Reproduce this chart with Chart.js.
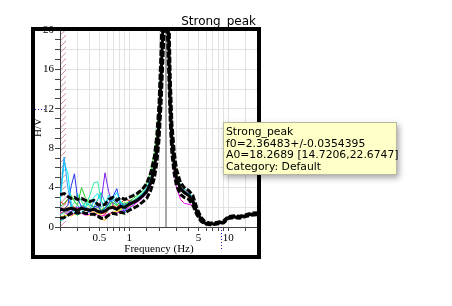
<!DOCTYPE html>
<html>
<head>
<meta charset="utf-8">
<script src="https://cdn.jsdelivr.net/npm/chart.js@4/dist/chart.umd.min.js"></script>
<style>
html,body{margin:0;padding:0;background:#fff;}
canvas{display:block;}
</style>
</head>
<body>
<canvas id="c" width="452" height="306" style="width:452px;height:306px"></canvas>
<script>
const titleText = "Strong_peak";
const xTitle = "Frequency (Hz)";
const yTitle = "H/V";
const xLabelValues = [0.5, 1, 5, 10];
const yLabelStep = 4;
const f0 = 2.36483;
const fHatch = 0.23;
const cursorF = 8.4;
const cursorHV = 12;
const infoLines = ["Strong_peak", "f0=2.36483+/-0.0354395", "A0=18.2689 [14.7206,22.6747]", "Category: Default"];

const freq = [0.2,0.22,0.24,0.26,0.28,0.3,0.33,0.36,0.4,0.44,0.48,0.52,0.57,0.62,0.68,0.75,0.82,0.9,
  1.0,1.1,1.2,1.35,1.5,1.65,1.8,1.9,2.0,2.1,2.2,2.3,2.4,2.5,2.6,2.7,2.85,3.0,3.3,3.6,4.0,4.4,4.8,5.3,5.8,6.5,7.2,8,9,10,11.5,13,15,17,20];

const meanHV = [1.8,1.7,1.8,1.9,1.8,1.7,1.9,1.8,1.7,1.8,1.6,1.5,1.6,1.9,2.0,1.8,2.1,2.0,
  2.3,2.5,2.7,3.1,3.6,4.5,6.0,7.8,10.5,15,21,25,25,19,12.5,8.8,6.4,5.0,3.9,3.5,3.2,2.6,1.6,0.8,0.4,0.3,0.32,0.4,0.5,0.95,1.05,1.0,1.15,1.3,1.35];
const upperHV = [3.3,3.4,3.1,2.9,3.0,2.8,2.9,2.7,2.6,2.7,2.3,2.2,2.3,2.8,3.0,2.7,3.0,2.8,
  3.0,3.2,3.4,3.8,4.4,5.5,7.2,9.3,12.5,18,25,29,29,23,15,10.5,7.6,5.9,4.5,4.0,3.7,3.2,2.0,1.0,0.55,0.4,0.42,0.5,0.62,1.05,1.15,1.1,1.25,1.4,1.45];
const lowerHV = [0.9,0.95,1.2,1.4,1.5,1.4,1.5,1.4,1.3,1.3,1.1,0.9,0.9,1.2,1.4,1.3,1.5,1.4,
  1.7,1.9,2.1,2.5,2.9,3.7,5.0,6.5,8.8,12.5,17.5,21.5,21.5,16,10.5,7.4,5.4,4.2,3.3,3.0,2.8,2.2,1.3,0.6,0.32,0.22,0.25,0.32,0.42,0.85,0.95,0.9,1.05,1.2,1.25];

const hvSkyBlue = [3.0,7.1,4.0,2.0,1.8,1.6,2.2,2.0,1.8,2.6,2.3,2.0,2.4,2.8,2.6,3.0,2.4,2.2,
  2.4,2.6,2.9,3.3,3.9,4.9,6.4,8.2,11,16,22,26,26,20,13,9.2,6.8,5.3,4.1,3.7,3.4,2.7,1.7,0.8,0.4,0.3,0.32,0.4,0.52,0.95,1.05,1.0,1.15,1.3,1.35];
const hvCyan = [2.5,6.5,5.5,2.4,1.4,1.2,1.5,2.0,2.5,3.0,3.4,2.6,2.2,3.2,2.8,3.5,2.5,1.8,
  2.2,2.4,2.8,3.2,3.8,4.7,6.2,8.0,11,16.5,23,27,26,19,12,8.5,6.5,5.2,4.3,3.9,3.6,2.9,1.8,0.9,0.45,0.3,0.3,0.38,0.5,0.9,1.0,1.0,1.1,1.25,1.3];
const hvBlue = [1.6,1.8,2.2,4.2,5.4,3.0,2.0,1.8,1.5,2.0,2.2,1.6,1.9,2.4,3.0,3.9,2.2,1.5,
  2.6,2.4,2.6,3.0,3.5,4.3,5.8,7.5,10,14.5,20,24,24,18,12,8.5,6.2,4.9,3.8,3.6,3.3,2.5,1.5,0.7,0.35,0.25,0.3,0.38,0.48,0.9,1.0,0.95,1.1,1.25,1.3];
const hvGreen = [2.0,2.4,2.8,3.2,2.6,2.2,4.0,3.0,2.4,2.0,2.2,1.7,1.9,2.3,2.5,2.2,2.6,2.2,
  2.6,2.9,3.2,3.6,4.4,5.6,7.6,9.5,12.5,17,23,26,25,18,11.5,8.0,6.0,4.7,3.7,3.4,3.1,2.5,1.6,0.8,0.4,0.3,0.32,0.4,0.5,0.95,1.05,1.0,1.15,1.3,1.35];
const hvSpring = [1.2,1.5,1.8,2.2,2.5,3.4,2.6,2.0,3.2,4.5,4.6,2.8,1.6,2.4,2.9,2.2,2.5,2.3,
  2.4,2.7,3.0,3.4,4.0,5.0,6.6,8.4,11,15.5,21,25,25,19.5,13,9.0,6.6,5.1,4.0,3.6,3.3,2.7,1.7,0.8,0.4,0.3,0.32,0.42,0.52,0.95,1.05,1.0,1.15,1.3,1.35];
const hvPurple = [2.0,1.8,1.5,1.6,1.8,2.0,1.9,1.7,1.6,1.8,2.0,2.6,5.5,3.6,2.3,2.6,2.2,2.4,
  2.2,2.4,2.6,3.0,3.5,4.4,5.9,7.6,10.2,14.5,20.5,24.5,24.5,18.5,12,8.6,6.3,4.9,3.8,3.4,3.1,2.5,1.5,0.75,0.38,0.28,0.3,0.4,0.5,0.95,1.05,1.0,1.15,1.3,1.35];
const hvRed = [2.6,2.3,2.8,2.2,2.0,1.9,2.1,2.0,1.8,1.7,1.5,1.4,1.3,1.8,2.2,2.0,2.4,2.8,
  2.7,2.6,2.8,3.2,3.8,4.6,6.1,7.9,10.5,15,21,25,25,19,12.5,8.8,6.5,5.1,4.0,3.7,3.5,2.9,1.8,0.9,0.45,0.32,0.34,0.42,0.52,0.95,1.05,1.0,1.15,1.3,1.35];
const hvMagenta = [1.4,1.5,1.3,1.2,1.4,1.5,1.4,1.2,1.3,1.4,1.2,1.1,1.2,1.3,1.5,1.4,1.6,1.7,
  2.0,2.2,2.5,2.9,3.4,4.2,5.6,7.3,10,14.5,20.5,24.5,24.5,18,11.5,7.8,5.5,4.0,2.8,2.4,2.3,2.2,1.5,0.8,0.4,0.3,0.32,0.4,0.5,0.95,1.05,1.0,1.15,1.3,1.35];
const hvYellow = [1.0,1.1,1.2,1.1,1.3,1.2,1.4,1.3,1.2,1.3,1.4,1.2,1.1,1.3,1.5,1.6,1.8,1.9,
  2.1,2.4,2.7,3.1,3.6,4.4,5.9,7.8,10.5,15.5,22,26.5,26.5,21,14,10,7.2,5.5,4.2,3.7,3.4,2.7,1.7,0.85,0.42,0.3,0.32,0.4,0.5,0.95,1.05,1.0,1.15,1.3,1.35];
const hvOrange = [1.8,1.9,2.0,1.8,1.7,1.8,1.9,1.7,1.6,1.5,1.2,0.8,0.7,1.1,1.5,1.4,1.9,2.0,
  2.4,2.6,2.8,3.2,3.7,4.6,6.1,7.9,10.5,15,21,25,25,19,12.5,8.8,6.4,5.0,3.9,3.5,3.2,2.6,1.6,0.8,0.4,0.3,0.32,0.4,0.5,0.95,1.05,1.0,1.15,1.35,1.45];
const hvTeal = [0.6,0.8,1.3,1.6,1.9,2.2,1.8,2.5,2.2,2.0,2.8,3.5,2.5,2.0,2.8,2.4,1.8,1.4,
  1.9,2.2,2.6,3.0,3.5,4.4,5.9,7.7,10.3,14.8,20.8,24.8,24.8,19,12.5,8.8,6.4,5.0,4.0,3.7,3.4,2.7,1.6,0.8,0.4,0.3,0.32,0.4,0.5,0.95,1.05,1.0,1.15,1.3,1.35];
const hvLightGreen = [1.5,1.3,1.6,1.9,2.0,1.8,2.1,2.4,2.0,1.8,1.9,1.8,2.0,2.1,2.3,2.0,2.3,2.5,
  2.5,2.7,2.9,3.3,3.8,4.7,6.2,8.0,10.7,15.2,21.2,25.2,25.2,19.2,12.7,9.0,6.6,5.2,4.1,3.7,3.3,2.6,1.6,0.8,0.4,0.3,0.32,0.4,0.5,0.95,1.05,1.0,1.15,1.3,1.35];

const curveSeries = [
  {values: hvSkyBlue, color: "#1ea8ff"},
  {values: hvCyan, color: "#00e8f0"},
  {values: hvBlue, color: "#2030f0"},
  {values: hvGreen, color: "#20d020"},
  {values: hvSpring, color: "#30f0a0"},
  {values: hvPurple, color: "#7a20f0"},
  {values: hvRed, color: "#f02020"},
  {values: hvMagenta, color: "#ff00ff"},
  {values: hvYellow, color: "#e8e800"},
  {values: hvOrange, color: "#ff9a00"},
  {values: hvTeal, color: "#00c8c8"},
  {values: hvLightGreen, color: "#90ff50"}
];

function pts(vals){ return vals.map((v,i)=>({x: freq[i], y: v})); }

const datasets = [
  {data: pts(meanHV), borderColor: "#000", borderWidth: 3},
  {data: pts(upperHV), borderColor: "#000", borderWidth: 3, borderDash: [6,2]},
  {data: pts(lowerHV), borderColor: "#000", borderWidth: 3, borderDash: [6,2]}
].concat(curveSeries.map(s => ({data: pts(s.values), borderColor: s.color, borderWidth: 1})));
datasets.forEach(d => { d.pointRadius = 0; d.tension = 0; d.fill = false; d.clip = 0; });

const deco = {
  id: "deco",
  beforeDatasetsDraw(chart){
    const ctx = chart.ctx, a = chart.chartArea, xs = chart.scales.x;
    ctx.save();
    ctx.beginPath(); ctx.rect(a.left, a.top, a.right-a.left, a.bottom-a.top); ctx.clip();
    // hatched range
    const hx = xs.getPixelForValue(fHatch);
    ctx.beginPath(); ctx.rect(a.left+1, a.top, hx-a.left-1, a.bottom-a.top); ctx.clip();
    ctx.strokeStyle = "#d08aa0"; ctx.lineWidth = 1;
    for(let y = a.top - 20; y < a.bottom + 20; y += 5.8){
      ctx.beginPath(); ctx.moveTo(a.left, y+8); ctx.lineTo(a.left+8, y); ctx.stroke();
    }
    ctx.restore();
    ctx.save();
    const fx = Math.round(xs.getPixelForValue(f0));
    ctx.strokeStyle = "#a8a8a8"; ctx.lineWidth = 2;
    ctx.beginPath(); ctx.moveTo(fx, a.top); ctx.lineTo(fx, a.bottom); ctx.stroke();
    ctx.restore();
  },
  afterDraw(chart){
    const ctx = chart.ctx, a = chart.chartArea, xs = chart.scales.x, ys = chart.scales.y;
    ctx.save();
    // cursor markers
    ctx.strokeStyle = "#1010c0"; ctx.lineWidth = 1; ctx.setLineDash([1,2]);
    const cy = Math.round(ys.getPixelForValue(cursorHV)) + 0.5;
    ctx.beginPath(); ctx.moveTo(35, cy); ctx.lineTo(46, cy); ctx.stroke();
    const cx = Math.round(xs.getPixelForValue(cursorF)) + 0.5;
    ctx.beginPath(); ctx.moveTo(cx, a.bottom); ctx.lineTo(cx, 251); ctx.stroke();
    ctx.setLineDash([]);
    // frame
    ctx.strokeStyle = "#000"; ctx.lineWidth = 4;
    ctx.strokeRect(33, 29, 226, 228);
    // title
    ctx.fillStyle = "#000";
    ctx.font = "12px 'DejaVu Sans'"; ctx.textAlign = "right"; ctx.textBaseline = "alphabetic";
    ctx.fillText(titleText, 256, 25);
    // axis titles
    ctx.font = "11px 'Liberation Serif'"; ctx.textAlign = "center"; ctx.textBaseline = "middle";
    ctx.fillText(xTitle, (a.left+a.right)/2, 249);
    ctx.save(); ctx.translate(38, (a.top+a.bottom)/2 - 1); ctx.rotate(-Math.PI/2);
    ctx.fillText(yTitle, 0, 0); ctx.restore();
    // info box
    const bx = 223, by = 122, bw = 174, bh = 53;
    ctx.save();
    ctx.shadowColor = "rgba(0,0,0,0.35)"; ctx.shadowBlur = 6; ctx.shadowOffsetX = 2; ctx.shadowOffsetY = 3;
    ctx.fillStyle = "#ffffc8"; ctx.fillRect(bx, by, bw, bh);
    ctx.restore();
    ctx.strokeStyle = "#b8b8a0"; ctx.lineWidth = 1; ctx.strokeRect(bx+0.5, by+0.5, bw-1, bh-1);
    ctx.fillStyle = "#000"; ctx.font = "10.8px 'DejaVu Sans'"; ctx.textAlign = "left"; ctx.textBaseline = "alphabetic";
    infoLines.forEach((t,i) => ctx.fillText(t, 226, 135 + i*11.6));
    ctx.restore();
  }
};

new Chart(document.getElementById("c"), {
  type: "line",
  data: {datasets},
  options: {
    responsive: false, animation: false, devicePixelRatio: 1,
    layout: {padding: {left: 31, top: 30, right: 194, bottom: 57}},
    plugins: {legend: {display: false}, tooltip: {enabled: false}, title: {display: false}},
    scales: {
      x: {
        type: "logarithmic", min: 0.2, max: 20,
        afterFit(s){ s.height = 22; },
        border: {display: true, color: "#444", width: 1},
        grid: {color: "#e2e2e2", tickColor: "#444", tickLength: 4, drawTicks: true},
        ticks: {
          autoSkip: false, maxRotation: 0, padding: 1, color: "#000",
          font: {family: "'Liberation Serif'", size: 11},
          callback(v){ return xLabelValues.some(l => Math.abs(l - v) < 1e-9) ? String(v) : ""; }
        }
      },
      y: {
        type: "linear", min: 0, max: 20,
        afterFit(s){ s.width = 29; },
        border: {display: true, color: "#444", width: 1},
        grid: {
          color: c => (c.tick && c.tick.value % 2 === 0) ? "#e2e2e2" : "rgba(0,0,0,0)",
          tickColor: "#444", tickLength: 5, drawTicks: true
        },
        ticks: {
          stepSize: 1, autoSkip: false, padding: 1, color: "#000",
          font: {family: "'Liberation Serif'", size: 11},
          callback(v){ return v % yLabelStep === 0 ? String(v) : ""; }
        }
      }
    }
  },
  plugins: [deco]
});
</script>
</body>
</html>
